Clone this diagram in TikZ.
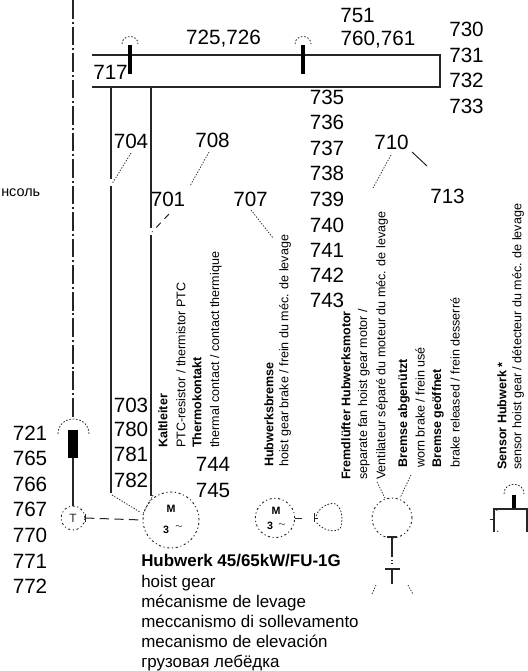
\documentclass[tikz,border=0pt]{standalone}
\usepackage{fontspec}
\setmainfont{Liberation Sans}
\tikzset{
  num/.style={inner sep=0pt,font=\fontsize{15.5}{15.5}\selectfont},
  vtext/.style={inner sep=0pt,rotate=90,anchor=west,font=\fontsize{9.4}{9.4}\selectfont},
  vbold/.style={vtext,font=\fontsize{9.4}{9.4}\selectfont\bfseries},
  captxt/.style={inner sep=0pt,anchor=base west,font=\fontsize{12.7}{12.7}\selectfont},
  wire/.style={line width=0.8pt,black!85},
  bar/.style={line width=3.6pt,black},
  leader/.style={line width=0.6pt,black!80,dash pattern=on 1pt off 1.1pt},
  symcirc/.style={circle,draw,inner sep=0pt,line width=0.7pt,black!85,dash pattern=on 1.6pt off 2pt on 0.8pt off 2pt},
  arcdot/.style={line width=0.6pt,black!85,dash pattern=on 1.2pt off 1.3pt},
  thin/.style={line width=0.75pt,black!85},
  symlabel/.style={inner sep=0pt,font=\fontsize{8}{8}\selectfont\bfseries},
  symtilde/.style={inner sep=0pt,font=\fontsize{6}{6}\selectfont},
}
\begin{document}
\begin{tikzpicture}[x=0.75pt,y=-0.75pt]
\useasboundingbox (0,0) rectangle (528,671);
\clip (0,0) rectangle (528,671);
% centre line
\coordinate (ctop) at (73,0);
\coordinate (cbot) at (73,400);
\coordinate (crod) at (73,418);
\draw[line width=0.8pt,black!85,dash pattern=on 14pt off 2.2pt on 1.5pt off 2.2pt] (ctop) -- (cbot) -- (crod);
\node[inner sep=0pt,anchor=west,font=\fontsize{10.8}{10.8}\selectfont] (konsole) at (1,193) {нсоль};
% frame
\coordinate (ftl) at (92,55);
\coordinate (ftr) at (440,55);
\coordinate (fbr) at (440,87);
\coordinate (fbl) at (92,87);
\draw[wire] (ftl) -- (ftr) -- (fbr) -- (fbl);
\coordinate (b1t) at (130,45); \coordinate (b1b) at (130,74);
\coordinate (b2t) at (303,45); \coordinate (b2b) at (303,74);
\draw[bar] (b1t) -- (b1b);
\draw[bar] (b2t) -- (b2b);
\draw[arcdot] (122,44) .. controls (122,34) and (138,34) .. (138,44);
\draw[arcdot] (295,44) .. controls (295,34) and (311,34) .. (311,44);
% vertical cables
\coordinate (v1a) at (111,87); \coordinate (v1b) at (111,179);
\coordinate (v1c) at (111,186); \coordinate (v1d) at (111,493);
\coordinate (v2a) at (151,87); \coordinate (v2b) at (151,228);
\coordinate (v2c) at (151,235); \coordinate (v2d) at (151,496);
\draw[wire] (v1a) -- (v1b) (v1c) -- (v1d);
\draw[wire] (v2a) -- (v2b) (v2c) -- (v2d);
% numbers
\node[num] (n751) at (357.5,15) {751};
\node[num] (n760) at (378,40) {760,761};
\node[num] (n725) at (223.5,39) {725,726};
\node[num] (n730) at (466.5,29) {730};
\node[num] (n731) at (466.5,55) {731};
\node[num] (n732) at (466.5,80) {732};
\node[num] (n733) at (466.5,106) {733};
\node[num] (n735) at (327,97) {735};
\node[num] (n736) at (327,122) {736};
\node[num] (n737) at (327,148) {737};
\node[num] (n738) at (327,173) {738};
\node[num] (n739) at (327,199) {739};
\node[num] (n740) at (327,225) {740};
\node[num] (n741) at (327,250) {741};
\node[num] (n742) at (327,275) {742};
\node[num] (n743) at (327,300) {743};
\node[num] (n710) at (391.5,142) {710};
\node[num] (n713) at (447.5,196) {713};
\node[num] (n717) at (110.5,72) {717};
\node[num] (n704) at (131,141) {704};
\node[num] (n708) at (212.5,140) {708};
\node[num] (n701) at (168,199) {701};
\node[num] (n707) at (250.5,199) {707};
\node[num] (n703) at (131,405) {703};
\node[num] (n780) at (131,429) {780};
\node[num] (n781) at (131,454) {781};
\node[num] (n782) at (131,480) {782};
\node[num] (n744) at (213,464) {744};
\node[num] (n745) at (213,490) {745};
\node[num] (n721) at (30,433) {721};
\node[num] (n765) at (30,458) {765};
\node[num] (n766) at (30,484) {766};
\node[num] (n767) at (30,509) {767};
\node[num] (n770) at (30,535) {770};
\node[num] (n771) at (30,561) {771};
\node[num] (n772) at (30,586) {772};
% leaders
\coordinate (l710a) at (391,155); \coordinate (l710b) at (373,188);
\draw[leader] (l710a) -- (l710b);
\coordinate (l713a) at (412,152); \coordinate (l713b) at (427,166);
\draw[thin] (l713a) -- (l713b);
\coordinate (l704a) at (131,153); \coordinate (l704b) at (112,184);
\draw[leader] (l704a) -- (l704b);
\coordinate (l708a) at (209,152); \coordinate (l708b) at (190,186);
\draw[leader] (l708a) -- (l708b);
\coordinate (l701a) at (169,214); \coordinate (l701b) at (152,232);
\draw[thin,dash pattern=on 5pt off 4pt] (l701a) -- (l701b);
\coordinate (l707a) at (251,210); \coordinate (l707b) at (273,238);
\draw[leader] (l707a) -- (l707b);
% vertical texts
\node[vbold] (t1) at (163,448) {Kaltleiter};
\node[vtext] (t2) at (181,448) {PTC-resistor / thermistor PTC};
\node[vbold] (t3) at (197,448) {Thermokontakt};
\node[vtext] (t4) at (216,448) {thermal contact / contact thermique};
\node[vbold] (t5) at (269,467) {Hubwerksbremse};
\node[vtext] (t6) at (285,467) {hoist gear brake / frein du méc. de levage};
\node[vbold] (t7) at (346,480) {Fremdlüfter Hubwerksmotor};
\node[vtext] (t8) at (364,480) {separate fan hoist gear motor /};
\node[vtext] (t9) at (382,480) {Ventilateur séparé du moteur du méc. de levage};
\node[vbold] (t10) at (404,468) {Bremse abgenützt};
\node[vtext] (t11) at (420,468) {worn brake / frein usé};
\node[vbold] (t12) at (438,468) {Bremse geöffnet};
\node[vtext] (t13) at (455,468) {brake released / frein desserré};
\node[vbold] (t14) at (502,470) {Sensor Hubwerk *};
\node[vtext] (t15) at (518,470) {sensor hoist gear / détecteur du méc. de levage};
% left rod
\node[fill=black,inner sep=0pt,minimum width=6.8pt,minimum height=21pt] (rodbar) at (73,444) {};
\draw[arcdot] (58,434) .. controls (58,414) and (89,414) .. (89,434);
\node[symcirc,minimum size=18pt,font=\fontsize{9}{9}\selectfont] (tacho) at (73,518) {T};
\draw[wire] (rodbar) -- (tacho);
% motor
\node[symcirc,minimum size=42pt] (motor) at (171,520) {};
\node[symlabel] (mM) at (171,509) {M};
\node[symlabel] (m3) at (166,530) {3};
\node[symtilde] (mt) at (179,527) {$\sim$};
\coordinate (tick) at (85,518);
\draw[thin] (85,514) -- (85,522);
\draw[thin,dash pattern=on 7pt off 4pt] (tick) -- (motor.west);
\coordinate (mc1) at (112,495); \coordinate (mc2) at (140,512);
\coordinate (mc3) at (153,495); \coordinate (mc4) at (142,515);
\draw[leader] (mc1) -- (mc2);
\draw[leader] (mc3) -- (mc4);
% brake
\node[symcirc,minimum size=29.5pt] (bm) at (275,518) {};
\node[symlabel] (bM) at (276,511) {M};
\node[symlabel] (b3) at (270,526) {3};
\node[symtilde] (bt) at (282,525) {$\sim$};
\coordinate (bs1) at (302,518);
\draw[thin] (bm.east) -- (bs1);
\coordinate (bs2) at (318,518);
\coordinate (bs3) at (314,518);
\draw[thin] (bs3) -- (bs2) (314,513) -- (314,522);
\draw[arcdot] (316,516) .. controls (320,505) and (333,501) .. (337,505) .. controls (343,510) and (343,522) .. (340,529) .. controls (334,533) and (322,530) .. (316,522);
% fan symbol
\node[symcirc,minimum size=30pt] (fan) at (392,518) {};
\coordinate (f1) at (377,482); \coordinate (f2) at (385,498);
\coordinate (f3) at (411,475); \coordinate (f4) at (400,498);
\draw[leader] (f1) -- (f2);
\draw[leader] (f3) -- (f4);
\coordinate (s1) at (392,557);
\draw[wire] (387,537) -- (397,537) (fan.south) -- (s1);
\draw[thin] (391,560) -- (393,560) (391,563) -- (393,563);
\coordinate (s2) at (392,569); \coordinate (s3) at (392,584);
\draw[wire] (385,569) -- (400,569) (s2) -- (s3);
\coordinate (g1) at (376,585); \coordinate (g2) at (372,594);
\coordinate (g3) at (408,585); \coordinate (g4) at (413,594);
\draw[leader] (g1) -- (g2);
\draw[leader] (g3) -- (g4);
% sensor
\draw[arcdot] (504,494) .. controls (504,481) and (524,481) .. (524,494);
\coordinate (sa) at (514,495); \coordinate (sb) at (514,509);
\draw[line width=3.6pt] (sa) -- (sb);
\coordinate (sl) at (494,509); \coordinate (sr) at (527,509);
\coordinate (sld) at (494,532); \coordinate (srd) at (527,532);
\draw[wire] (sld) -- (sl) -- (sr) -- (srd);
\coordinate (st) at (490,519);
\draw[thin] (st) -- (494,519);
\draw[leader] (496,510) -- (499,511) (497,531) -- (499,532);
% caption
\node[captxt,font=\fontsize{12.7}{12.7}\selectfont\bfseries] (c1) at (141,566) {Hubwerk 45/65kW/FU-1G};
\node[captxt] (c2) at (141,587) {hoist gear};
\node[captxt] (c3) at (141,607) {mécanisme de levage};
\node[captxt] (c4) at (141,627) {meccanismo di sollevamento};
\node[captxt] (c5) at (141,647) {mecanismo de elevación};
\node[captxt] (c6) at (141,667) {грузовая лебёдка};
\end{tikzpicture}
\end{document}
